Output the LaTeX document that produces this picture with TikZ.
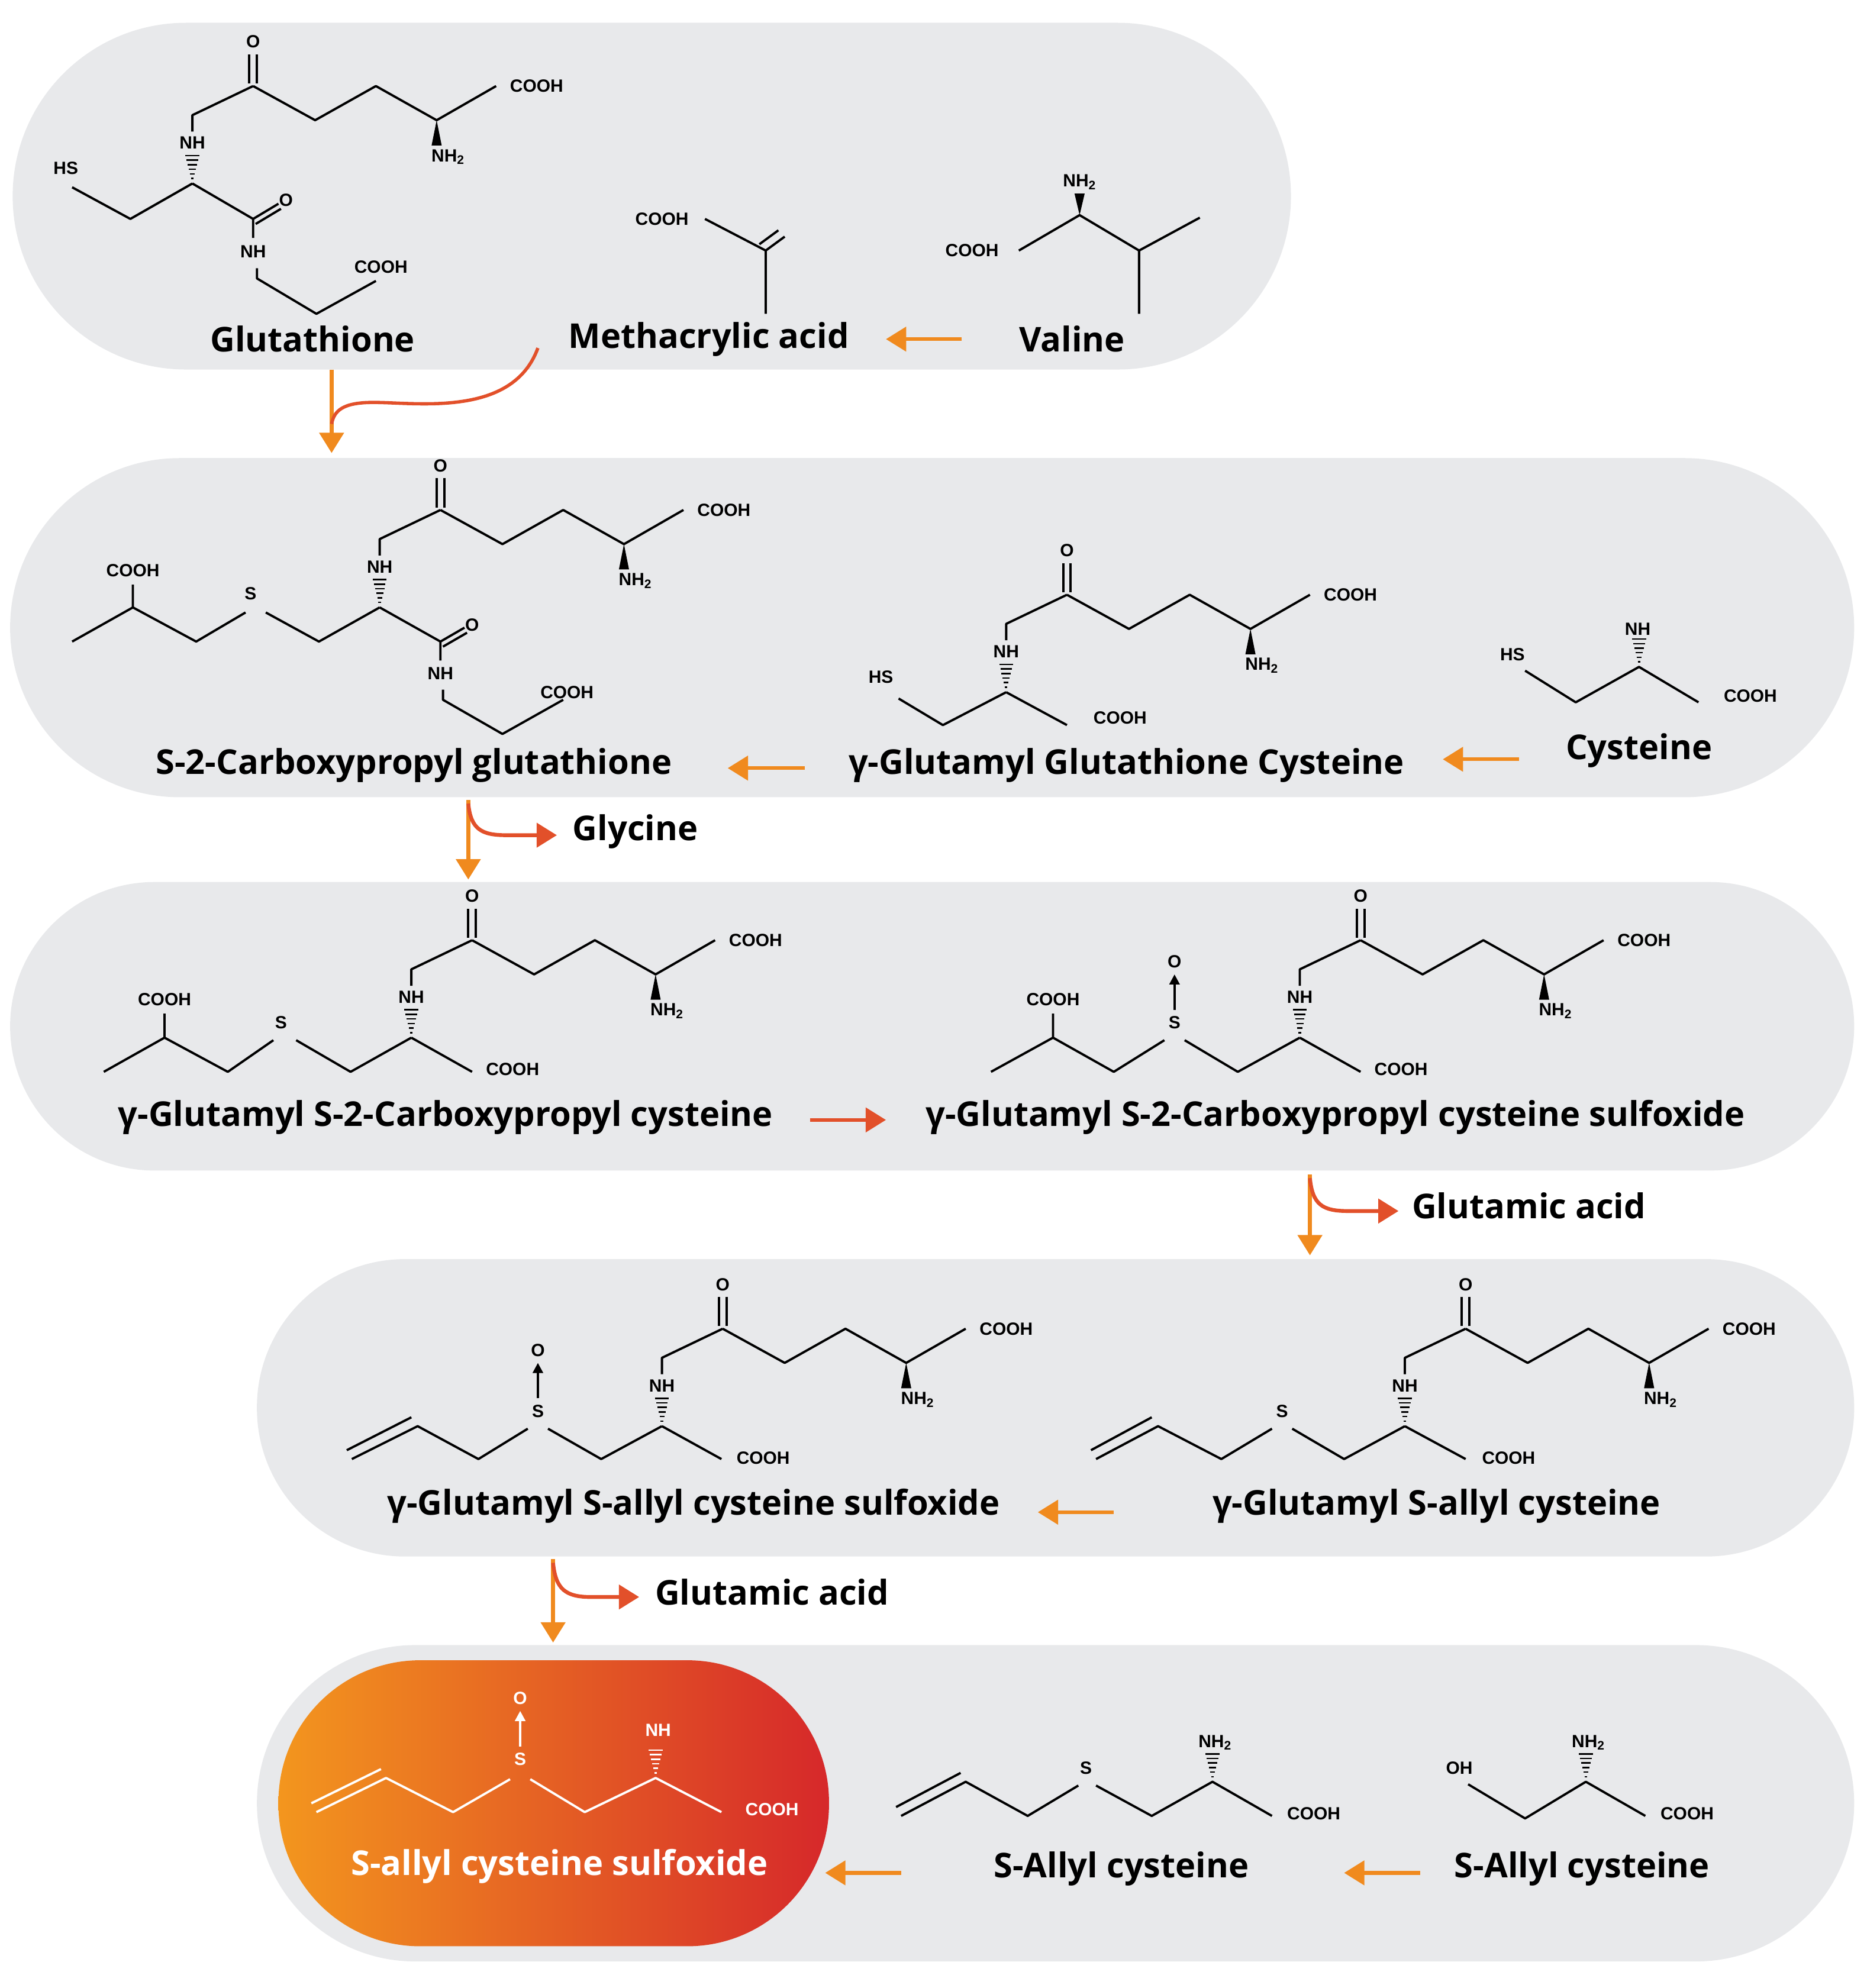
\documentclass[tikz,border=0pt]{standalone}
\usepackage{fontspec}
\newfontfamily\labf{Open Sans}
\newfontfamily\smf{Liberation Sans}
\usetikzlibrary{arrows.meta}
\definecolor{panel}{HTML}{E8E9EB}
\definecolor{arr}{HTML}{F08A1E}
\definecolor{arrr}{HTML}{E2502A}
\definecolor{gl}{HTML}{F3961E}
\definecolor{gr}{HTML}{D6282A}
\tikzset{
 lab/.style={font=\labf\bfseries\fontsize{27}{31}\selectfont,inner sep=0},
 sm/.style={font=\smf\bfseries\fontsize{14}{16}\selectfont,inner sep=0},
 bond/.style={line width=1.8pt,line join=round},
 pan/.style={fill=panel,draw=none},
 ar/.style={line width=3pt,arr,-{Triangle[width=19pt,length=16pt]}},
 arR/.style={line width=3pt,arrr,-{Triangle[width=19pt,length=16pt]}},
 hash/.pic={\foreach \i in {0,...,5}{\draw[line width=1.2pt] ({-1-0.9*\i},{-4-3.6*\i})--({1+0.9*\i},{-4-3.6*\i});}},
 glu/.pic={
  \node[sm] at (0,0) {NH};
  \draw[bond] (0,-9)--(0,-22)--(48,-45);
  \draw[bond] (45,-47)--(45,-70) (51,-47)--(51,-70);
  \node[sm] at (48,-80) {O};
  \draw[bond] (48,-45)--(97,-18)--(145,-45)--(193,-18)--(240,-45);
  \fill (193,-18)--(189,2)--(197,2)--cycle;
  \node[sm] at (202,11) {NH\textsubscript{2}};
  \node[sm] at (272,-45) {COOH};
  \pic at (0,32) {hash};
 },
 sox/.pic={
  \node[sm] at (0,0) {S};
  \draw[line width=1.8pt,-{Triangle[width=8pt,length=8pt]}] (0,-10)--(0,-38);
  \node[sm] at (0,-48) {O};
 }
}
\begin{document}
\begin{tikzpicture}[x=1pt,y=-1pt]
\useasboundingbox (0,0) rectangle (1475,1571);
% panels
\fill[pan,rounded corners=137pt] (10,18) rectangle (1020,292);
\fill[pan,rounded corners=134pt] (8,362) rectangle (1465,630);
\fill[pan,rounded corners=114pt] (8,697) rectangle (1465,925);
\fill[pan,rounded corners=117pt] (203,995) rectangle (1465,1230);
\fill[pan,rounded corners=125pt] (203,1300) rectangle (1465,1550);
\shade[left color=gl,right color=gr,rounded corners=112pt] (220,1312) rectangle (655,1538);

% ===== Panel 1 =====
\pic at (152,113) {glu};
\draw[bond] (152,145)--(103,173)--(57,148);
\node[sm] at (52,133) {HS};
\draw[bond] (152,145)--(200,173)--(200,188);
\draw[bond] (200,173)--(220,161) (202,177)--(222,165);
\node[sm] at (226,158) {O};
\node[sm] at (200,199) {NH};
\draw[bond] (203,212)--(203,220)--(250,248)--(297,222);
\node[sm] at (301,211) {COOH};
\node[lab] (glut) at (247,268) {Glutathione};

\node[sm] at (523,173) {COOH};
\draw[bond] (557,173)--(605,198)--(605,248);
\draw[bond] (605,198)--(620,187) (600,193)--(615,182);
\node[lab] (meth) at (560,268) {Methacrylic acid};

\node[sm] at (768,198) {COOH};
\draw[bond] (805,198)--(853,170)--(900,198)--(948,172) (900,198)--(900,248);
\fill (853,170)--(849,153)--(857,153)--cycle;
\node[sm] at (853,144) {NH\textsubscript{2}};
\node[lab] (val) at (847,268) {Valine};
\draw[ar] (760,268)--(700,268);

\coordinate (d1a) at (262,292); \coordinate (d1b) at (262,358);
\draw[ar] (d1a)--(d1b);
\draw[line width=2.6pt,arrr] (425,275) .. controls (405,330) and (330,318) .. (295,318) .. controls (270,318) and (264,325) .. (262,335);

% ===== Panel 2 =====
\pic at (300,448) {glu};
\draw[bond] (300,480)--(252,507)--(210,484);
\node[sm] at (198,469) {S};
\draw[bond] (194,484)--(155,507)--(105,480)--(57,507) (105,480)--(105,462);
\node[sm] at (105,451) {COOH};
\draw[bond] (300,480)--(348,507)--(348,522);
\draw[bond] (348,507)--(367,496) (350,511)--(369,500);
\node[sm] at (373,494) {O};
\node[sm] at (348,532) {NH};
\draw[bond] (350,545)--(350,553)--(397,580)--(445,553);
\node[sm] at (448,547) {COOH};
\node[lab] at (327,605) {S-2-Carboxypropyl glutathione};

\pic at (795,515) {glu};
\draw[bond] (795,547)--(745,573)--(710,552);
\node[sm] at (696,535) {HS};
\draw[bond] (795,547)--(843,573);
\node[sm] at (885,567) {COOH};
\node[lab] at (890,605) {γ-Glutamyl Glutathione Cysteine};

\node[sm] at (1195,517) {HS};
\draw[bond] (1205,530)--(1245,555)--(1295,527)--(1342,555);
\pic at (1295,527) {hash};
\node[sm] at (1294,497) {NH};
\node[sm] at (1383,550) {COOH};
\node[lab] at (1295,593) {Cysteine};
\draw[ar] (1200,600)--(1140,600);
\draw[ar] (636,607)--(575,607);

\draw[ar] (370,632)--(370,695);
\draw[arR] (370,635) .. controls (372,655) and (380,660) .. (400,660)--(440,660);
\node[lab] at (502,657) {Glycine};

% ===== Panel 3 =====
\pic at (325,788) {glu};
\draw[bond] (325,820)--(277,847)--(234,822);
\draw[bond] (216,822)--(180,847)--(130,820)--(82,847) (130,820)--(130,801);
\node[sm] at (222,808) {S};
\node[sm] at (130,790) {COOH};
\draw[bond] (325,820)--(373,847);
\node[sm] at (405,845) {COOH};
\node[lab] at (352,883) {γ-Glutamyl S-2-Carboxypropyl cysteine};

\pic at (1027,788) {glu};
\draw[bond] (1027,820)--(978,847)--(936,822);
\pic at (928,808) {sox};
\draw[bond] (920,822)--(880,847)--(832,820)--(783,847) (832,820)--(832,801);
\node[sm] at (832,790) {COOH};
\draw[bond] (1027,820)--(1075,847);
\node[sm] at (1107,845) {COOH};
\node[lab] at (1055,883) {γ-Glutamyl S-2-Carboxypropyl cysteine sulfoxide};
\draw[arR] (640,885)--(700,885);

\draw[ar] (1035,928)--(1035,992);
\draw[arR] (1035,931) .. controls (1037,952) and (1045,957) .. (1065,957)--(1105,957);
\node[lab] at (1208,953) {Glutamic acid};

% ===== Panel 4 =====
\pic at (523,1095) {glu};
\draw[bond] (523,1127)--(475,1153)--(433,1129);
\pic at (425,1115) {sox};
\draw[bond] (417,1129)--(378,1153)--(330,1127)--(278,1153) (325,1120)--(274,1146);
\draw[bond] (523,1127)--(570,1153);
\node[sm] at (603,1152) {COOH};
\node[lab] at (548,1190) {γ-Glutamyl S-allyl cysteine sulfoxide};

\pic at (1110,1095) {glu};
\draw[bond] (1110,1127)--(1062,1153)--(1021,1129);
\node[sm] at (1013,1115) {S};
\draw[bond] (1005,1129)--(965,1153)--(915,1127)--(866,1153) (910,1120)--(862,1146);
\draw[bond] (1110,1127)--(1158,1153);
\node[sm] at (1192,1152) {COOH};
\node[lab] at (1135,1190) {γ-Glutamyl S-allyl cysteine};
\draw[ar] (880,1195)--(820,1195);

\draw[ar] (437,1232)--(437,1298);
\draw[arR] (437,1235) .. controls (439,1256) and (447,1262) .. (467,1262)--(505,1262);
\node[lab] at (610,1258) {Glutamic acid};

% ===== Panel 5 =====
\begin{scope}[white,every node/.append style={white}]
\pic at (411,1390) {sox};
\draw[bond] (250,1432)--(305,1405)--(358,1432)--(403,1406) (246,1425)--(301,1398);
\draw[bond] (419,1406)--(462,1432)--(518,1405)--(570,1432);
\pic at (518,1405) {hash};
\node[sm] at (520,1367) {NH};
\node[sm] at (610,1430) {COOH};
\node[lab] at (442,1475) {S-allyl cysteine sulfoxide};
\end{scope}

\draw[bond] (712,1435)--(763,1408)--(812,1435)--(852,1411) (708,1428)--(759,1401);
\node[sm] at (858,1397) {S};
\draw[bond] (866,1411)--(910,1435)--(958,1408)--(1005,1435);
\pic at (958,1408) {hash};
\node[sm] at (960,1377) {NH\textsubscript{2}};
\node[sm] at (1038,1433) {COOH};
\node[lab] at (886,1477) {S-Allyl cysteine};

\node[sm] at (1153,1397) {OH};
\draw[bond] (1160,1410)--(1205,1437)--(1253,1408)--(1300,1435);
\pic at (1253,1408) {hash};
\node[sm] at (1255,1377) {NH\textsubscript{2}};
\node[sm] at (1333,1433) {COOH};
\node[lab] at (1250,1477) {S-Allyl cysteine};
\draw[ar] (1122,1480)--(1062,1480);
\draw[ar] (712,1480)--(652,1480);
\end{tikzpicture}
\end{document}
